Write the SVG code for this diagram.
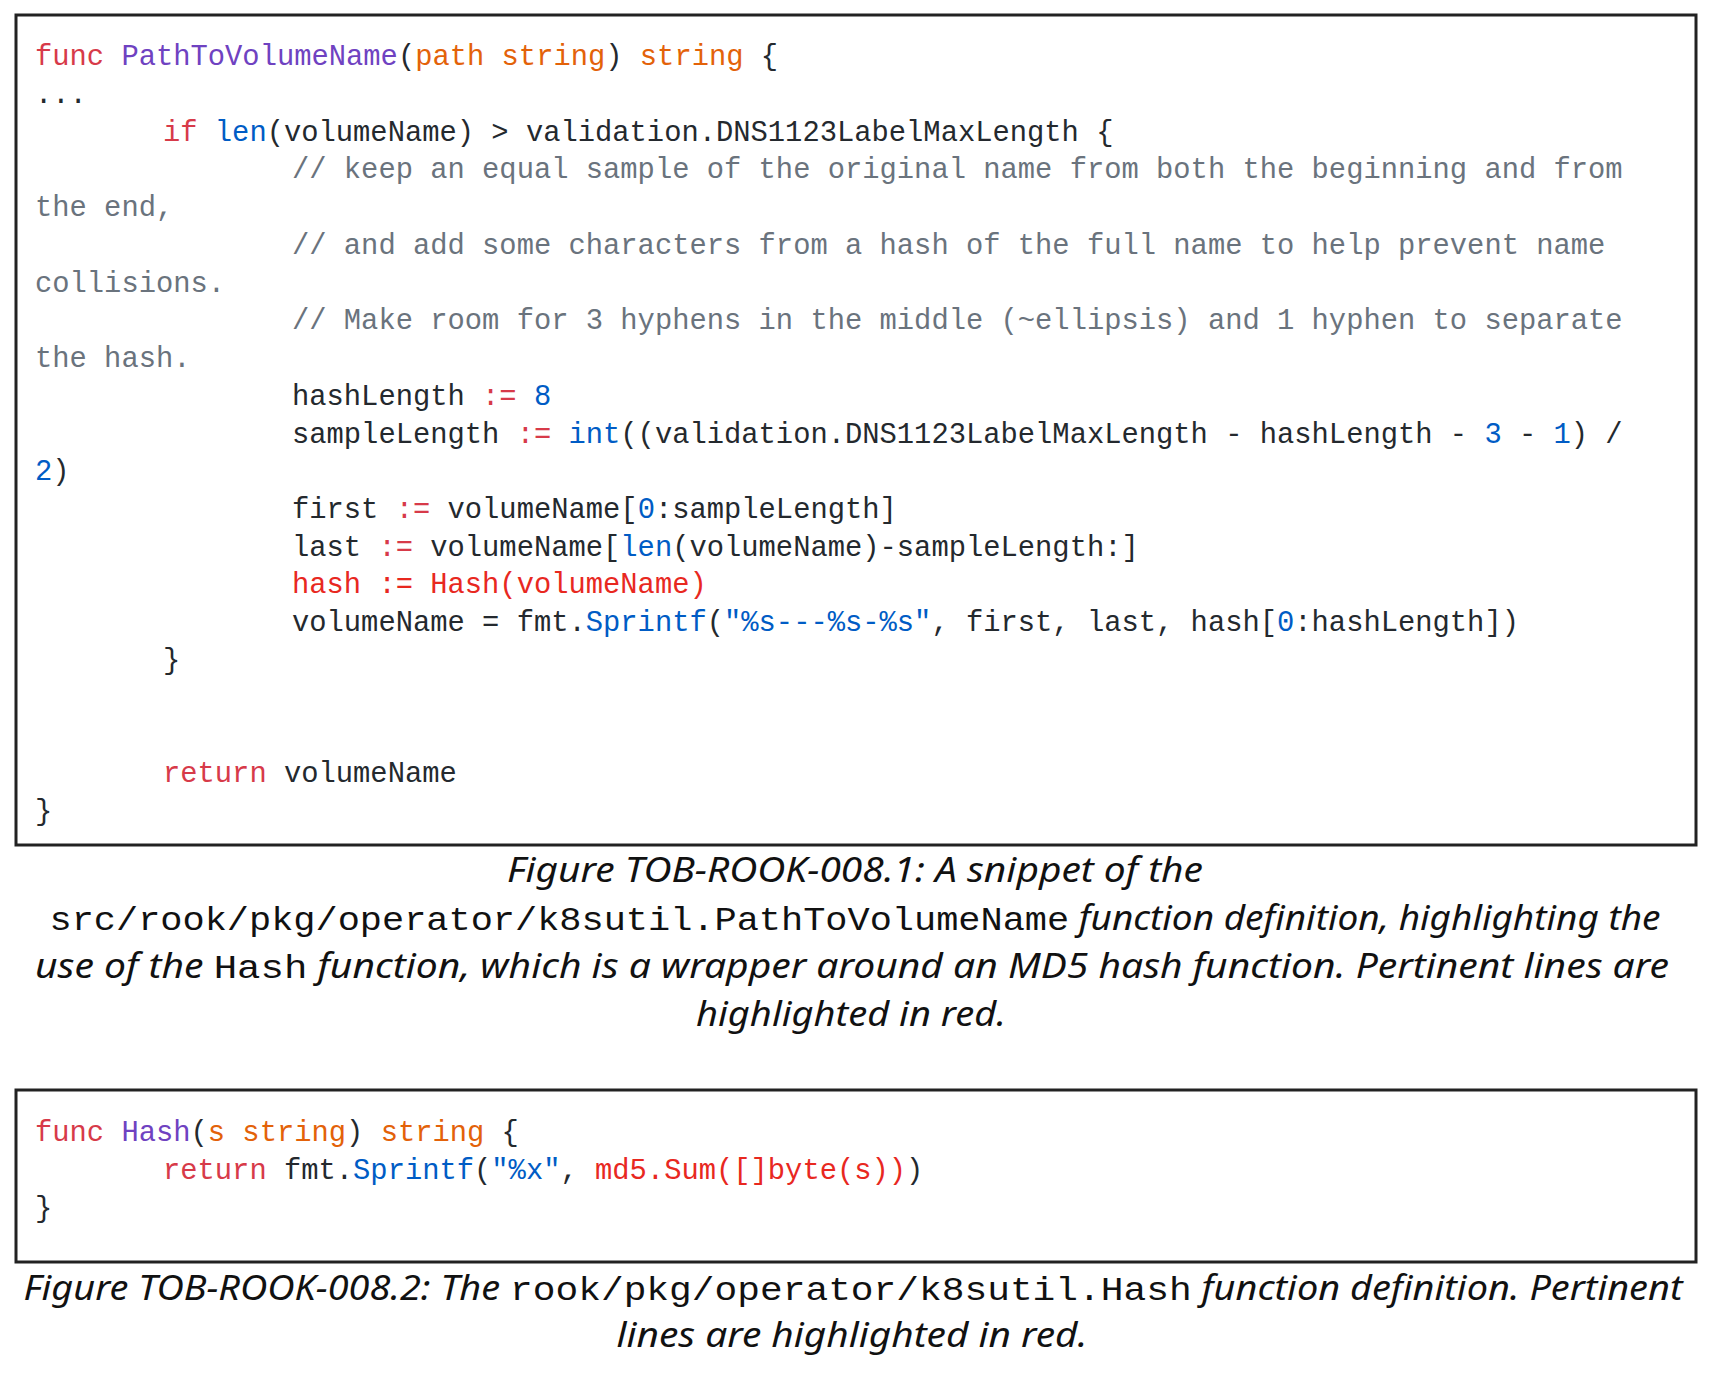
<svg xmlns="http://www.w3.org/2000/svg" width="1710" height="1380" viewBox="0 0 1710 1380">
<style>
.c{font-family:"Liberation Mono",monospace;font-size:28.8px;fill:#24292e;white-space:pre}
.k{fill:#d73a49}.f{fill:#6f42c1}.o{fill:#e36209}.b{fill:#005cc5}.g{fill:#6a737d}.r{fill:#e8281f}
.cap{font-family:"Noto Sans",sans-serif;font-style:italic;font-size:34px;fill:#111;text-anchor:middle;white-space:pre}
.m{font-family:"Liberation Mono",monospace;font-style:normal}
.box{fill:#fff;stroke:#222;stroke-width:3}
</style>
<rect width="1710" height="1380" fill="#fff"/>
<g id="code1">
<rect class="box" x="16" y="15" width="1680" height="830"/>
<text class="c" x="35" y="65"><tspan class="k">func</tspan> <tspan class="f">PathToVolumeName</tspan>(<tspan class="o">path string</tspan>) <tspan class="o">string</tspan> {</text>
<text class="c" x="35" y="103">...</text>
<text class="c" x="163" y="141"><tspan class="k">if</tspan> <tspan class="b">len</tspan>(volumeName) &gt; validation.DNS1123LabelMaxLength {</text>
<text class="c g" x="292" y="178">// keep an equal sample of the original name from both the beginning and from</text>
<text class="c g" x="35" y="216">the end,</text>
<text class="c g" x="292" y="254">// and add some characters from a hash of the full name to help prevent name</text>
<text class="c g" x="35" y="292">collisions.</text>
<text class="c g" x="292" y="329">// Make room for 3 hyphens in the middle (~ellipsis) and 1 hyphen to separate</text>
<text class="c g" x="35" y="367">the hash.</text>
<text class="c" x="292" y="405">hashLength <tspan class="k">:=</tspan> <tspan class="b">8</tspan></text>
<text class="c" x="292" y="443">sampleLength <tspan class="k">:=</tspan> <tspan class="b">int</tspan>((validation.DNS1123LabelMaxLength - hashLength - <tspan class="b">3</tspan> - <tspan class="b">1</tspan>) /</text>
<text class="c" x="35" y="480"><tspan class="b">2</tspan>)</text>
<text class="c" x="292" y="518">first <tspan class="k">:=</tspan> volumeName[<tspan class="b">0</tspan>:sampleLength]</text>
<text class="c" x="292" y="556">last <tspan class="k">:=</tspan> volumeName[<tspan class="b">len</tspan>(volumeName)-sampleLength:]</text>
<text class="c r" x="292" y="593">hash := Hash(volumeName)</text>
<text class="c" x="292" y="631">volumeName = fmt.<tspan class="b">Sprintf</tspan>(<tspan class="b">"%s---%s-%s"</tspan>, first, last, hash[<tspan class="b">0</tspan>:hashLength])</text>
<text class="c" x="163" y="669">}</text>
<text class="c" x="163" y="782"><tspan class="k">return</tspan> volumeName</text>
<text class="c" x="35" y="820">}</text>
</g>
<g id="caption1">
<text class="cap" x="855" y="882" textLength="696" lengthAdjust="spacingAndGlyphs">Figure TOB-ROOK-008.1: A snippet of the</text>
<text class="cap" x="855" y="930" textLength="1611" lengthAdjust="spacingAndGlyphs"><tspan class="m">src/rook/pkg/operator/k8sutil.PathToVolumeName</tspan> function definition, highlighting the</text>
<text class="cap" x="852" y="978" textLength="1634" lengthAdjust="spacingAndGlyphs">use of the <tspan class="m">Hash</tspan> function, which is a wrapper around an MD5 hash function. Pertinent lines are</text>
<text class="cap" x="851" y="1026" textLength="310" lengthAdjust="spacingAndGlyphs">highlighted in red.</text>
</g>
<g id="code2">
<rect class="box" x="16" y="1090" width="1680" height="172"/>
<text class="c" x="35" y="1141"><tspan class="k">func</tspan> <tspan class="f">Hash</tspan>(<tspan class="o">s string</tspan>) <tspan class="o">string</tspan> {</text>
<text class="c" x="163" y="1179"><tspan class="k">return</tspan> fmt.<tspan class="b">Sprintf</tspan>(<tspan class="b">"%x"</tspan>, <tspan class="r">md5.Sum([]byte(s))</tspan>)</text>
<text class="c" x="35" y="1217">}</text>
</g>
<g id="caption2">
<text class="cap" x="853" y="1300" textLength="1659" lengthAdjust="spacingAndGlyphs">Figure TOB-ROOK-008.2: The <tspan class="m">rook/pkg/operator/k8sutil.Hash</tspan> function definition. Pertinent</text>
<text class="cap" x="852" y="1347" textLength="471" lengthAdjust="spacingAndGlyphs">lines are highlighted in red.</text>
</g>
</svg>
